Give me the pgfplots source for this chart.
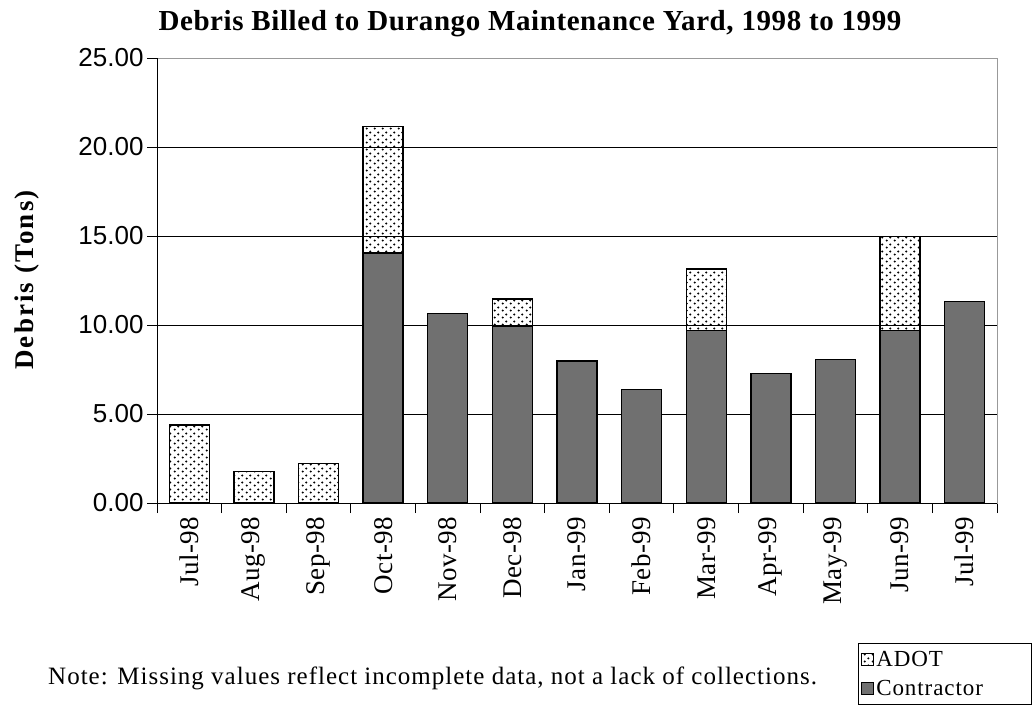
\documentclass[border=0pt]{standalone}
\usepackage{pgfplots}
\pgfplotsset{compat=1.18}
\usepackage{fontspec}
\setmainfont{Liberation Serif}
\newfontfamily\lsserif[LetterSpace=4]{Liberation Serif}
\newfontfamily\xserif[LetterSpace=2]{Liberation Serif}
\newfontfamily\ylserif[LetterSpace=8]{Liberation Serif}
\newfontfamily\tserif[LetterSpace=2]{Liberation Serif}
\newfontfamily\ticksans{Liberation Sans}
\usetikzlibrary{patterns}
\definecolor{contr}{RGB}{112,112,112}
\pgfdeclarepatternformonly{adotdots}{\pgfqpoint{0pt}{0pt}}{\pgfqpoint{7.5pt}{6.5pt}}{\pgfqpoint{7.5pt}{6.5pt}}{%
  \pgfpathcircle{\pgfqpoint{1.8pt}{1.6pt}}{1.15pt}%
  \pgfpathcircle{\pgfqpoint{5.55pt}{4.85pt}}{1.15pt}%
  \pgfusepath{fill}%
}
\begin{document}
\begin{tikzpicture}[x=1pt,y=1pt]
\path[use as bounding box] (0,0) rectangle (1034,-709);
\node[font=\tserif\bfseries\fontsize{29}{29}\selectfont] at (530,-24) {Debris Billed to Durango Maintenance Yard, 1998 to 1999};
\node[font=\ylserif\bfseries\fontsize{27}{27}\selectfont, rotate=90] at (27,-280) {Debris (Tons)};
\node[font=\lsserif\fontsize{25}{25}\selectfont, anchor=base west, inner sep=0pt] at (48,-684) {Note: Missing values reflect incomplete data, not a lack of collections.};
\begin{axis}[
  at={(157pt,-503pt)}, anchor=south west,
  scale only axis, width=840pt, height=445pt,
  xmin=0.5, xmax=13.5, ymin=0, ymax=25,
  ybar stacked, bar width=40pt,
  axis line style={draw=gray!80, line width=1pt},
  xtick={1,...,13},
  xticklabels={Jul-98,Aug-98,Sep-98,Oct-98,Nov-98,Dec-98,Jan-99,Feb-99,Mar-99,Apr-99,May-99,Jun-99,Jul-99},
  xtick pos=bottom, ytick pos=left,
  tick align=outside,
  major tick length=10pt,
  minor tick length=10pt,
  major x tick style={draw=none},
  minor xtick={0.5,1.5,...,13.5},
  minor x tick style={black, line width=1pt},
  ytick={0,5,...,25},
  major y tick style={black, line width=1pt},
  ymajorgrids, major grid style={black, line width=1pt},
  x tick label style={rotate=90, anchor=east, font=\xserif\fontsize{27}{27}\selectfont},
  y tick label style={font=\ticksans\fontsize{26}{26}\selectfont},
  yticklabel={\pgfmathprintnumber[fixed, fixed zerofill, precision=2, assume math mode=true]{\tick}},
  legend style={at={(0.8345,-0.3146)}, anchor=north west, draw=black, line width=1pt,
    font=\lsserif\fontsize{23}{23}\selectfont, inner xsep=3pt, inner ysep=6pt, row sep=8pt,
    nodes={text width=150pt, align=left, inner sep=2pt}},
  legend cell align=left,
  reverse legend,
  legend image code/.code={\draw[#1, line width=0.8pt] (0pt,-6pt) rectangle (12pt,6pt);},
  every axis plot/.append style={draw=black, line width=1.4pt},
]
\addplot[fill=contr, draw=black] coordinates {
 (1,0) (2,0) (3,0) (4,14.05) (5,10.66) (6,9.9) (7,7.98) (8,6.39) (9,9.68) (10,7.29) (11,8.07) (12,9.68) (13,11.31)};
\addlegendentry{Contractor}
\addplot[pattern=adotdots, pattern color=black, draw=black] coordinates {
 (1,4.38) (2,1.76) (3,2.23) (4,7.09) (5,0) (6,1.56) (7,0) (8,0) (9,3.47) (10,0) (11,0) (12,5.3) (13,0)};
\addlegendentry{ADOT}
\draw[black, line width=1pt] (rel axis cs:0,1) -- (rel axis cs:0,0) -- (rel axis cs:1,0);
\end{axis}
\end{tikzpicture}
\end{document}
